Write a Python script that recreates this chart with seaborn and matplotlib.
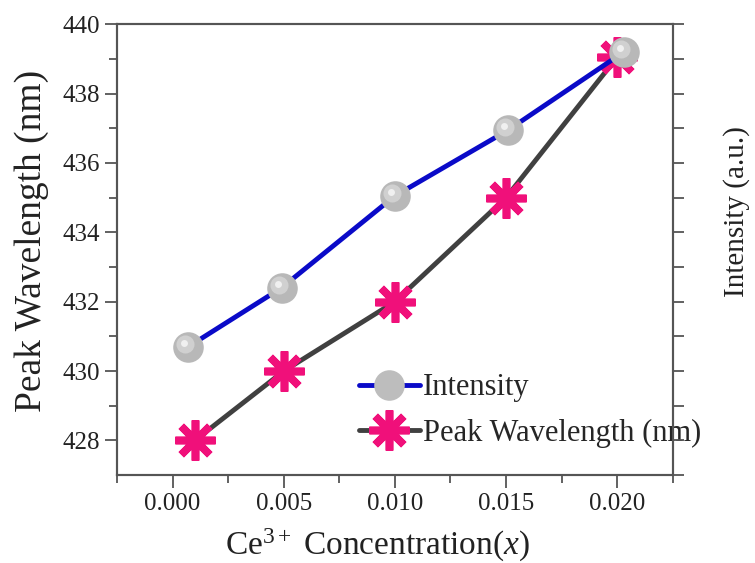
import numpy as np
import pandas as pd
import seaborn as sns
import matplotlib.pyplot as plt
from matplotlib.lines import Line2D
from matplotlib.transforms import ScaledTranslation

# data
conc_peak = [0.001, 0.005, 0.010, 0.015, 0.020]
peak_nm = [428.0, 430.0, 432.0, 435.0, 439.05]
conc_int = [0.0007, 0.0049, 0.0100, 0.0151, 0.0203]
intensity = [430.7, 432.4, 435.05, 436.95, 439.2]

x_ticks = [0.000, 0.005, 0.010, 0.015, 0.020]
x_ticklabels = ['0.000', '0.005', '0.010', '0.015', '0.020']
y_ticks = [428, 430, 432, 434, 436, 438, 440]

sns.set_style('white')
plt.rcParams['font.family'] = ['Liberation Serif', 'DejaVu Serif']
plt.rcParams['mathtext.fontset'] = 'custom'
plt.rcParams['mathtext.rm'] = 'Liberation Serif'
plt.rcParams['mathtext.it'] = 'Liberation Serif:italic'

df_peak = pd.DataFrame({'x': conc_peak, 'y': peak_nm})
df_int = pd.DataFrame({'x': conc_int, 'y': intensity})

pink = '#f0107a'
blue = '#0a0ac8'
dark = '#404040'
spine_c = '#555555'
txt_c = '#222222'

fig = plt.figure(figsize=(7.55, 5.63), dpi=100)
ax = fig.add_axes([0.155, 0.156, 0.736, 0.801])
ax2 = ax.twinx()

# peak wavelength, left axis
sns.lineplot(ax=ax, data=df_peak, x='x', y='y', color=dark, linewidth=3.5,
             marker=(8, 2, 0), markersize=29, markeredgewidth=5.5,
             markeredgecolor=pink, markerfacecolor=pink, zorder=3)

# intensity, right axis (same scale, no labels)
sns.lineplot(ax=ax2, data=df_int, x='x', y='y', color=blue, linewidth=3.5,
             marker='o', markersize=22, markeredgewidth=0,
             markerfacecolor='#b8b8b8', zorder=3)
# lighter highlight on the balls
hl = ax2.transData + ScaledTranslation(-3 / 100, 3 / 100, fig.dpi_scale_trans)
ax2.plot(conc_int, intensity, linestyle='none', marker='o', markersize=13,
         markeredgewidth=0, markerfacecolor='#d0d0d0', transform=hl, zorder=4)
hl2 = ax2.transData + ScaledTranslation(-4 / 100, 4 / 100, fig.dpi_scale_trans)
ax2.plot(conc_int, intensity, linestyle='none', marker='o', markersize=5,
         markeredgewidth=0, markerfacecolor='#f0f0f0', transform=hl2, zorder=5)

for a in (ax, ax2):
    a.set_xlim(-0.0025, 0.0225)
    a.set_ylim(427, 440)
    for s in a.spines.values():
        s.set_color(spine_c)
        s.set_linewidth(1.5)

ax.set_xticks(x_ticks)
ax.set_xticklabels(x_ticklabels)
ax.set_xticks(np.arange(-0.0025, 0.0226, 0.005), minor=True)
ax.set_yticks(y_ticks)
ax.set_yticks(np.arange(429, 440, 2), minor=True)
ax.tick_params(axis='both', which='major', direction='out', length=9, width=1.3,
               color=spine_c, labelsize=18, labelcolor=txt_c, left=True, bottom=True)
ax.tick_params(axis='both', which='minor', direction='out', length=6, width=1.3,
               color=spine_c, left=True, bottom=True)

ax2.set_yticks(np.arange(427, 441, 1))
ax2.tick_params(axis='y', which='major', direction='out', length=8, width=1.3,
                color=spine_c, labelright=False, right=True)

ax.set_xlabel('Ce$^{3+}$ Concentration($\\mathit{x}$)', fontsize=24, color=txt_c)
ax.xaxis.set_label_coords(0.468, -0.115)
ax.set_ylabel('Peak Wavelength (nm)', fontsize=27, color=txt_c)
ax.yaxis.set_label_coords(-0.122, 0.52)
ax2.set_ylabel('Intensity (a.u.)', fontsize=21, color=txt_c)
ax2.yaxis.set_label_coords(1.09, 0.585)

handles = [
    Line2D([], [], color=blue, linewidth=3.5, marker='o', markersize=22,
           markeredgewidth=0, markerfacecolor='#bdbdbd'),
    Line2D([], [], color=dark, linewidth=3.5, marker=(8, 2, 0), markersize=29,
           markeredgewidth=5.5, markeredgecolor=pink),
]
ax.legend(handles, ['Intensity', 'Peak Wavelength (nm)'], loc='lower left',
          bbox_to_anchor=(0.435, 0.06), frameon=False, fontsize=22,
          handlelength=2.0, handletextpad=0.1, labelspacing=0.55,
          borderaxespad=0, borderpad=0)

fig.savefig('out.png', dpi=100)
